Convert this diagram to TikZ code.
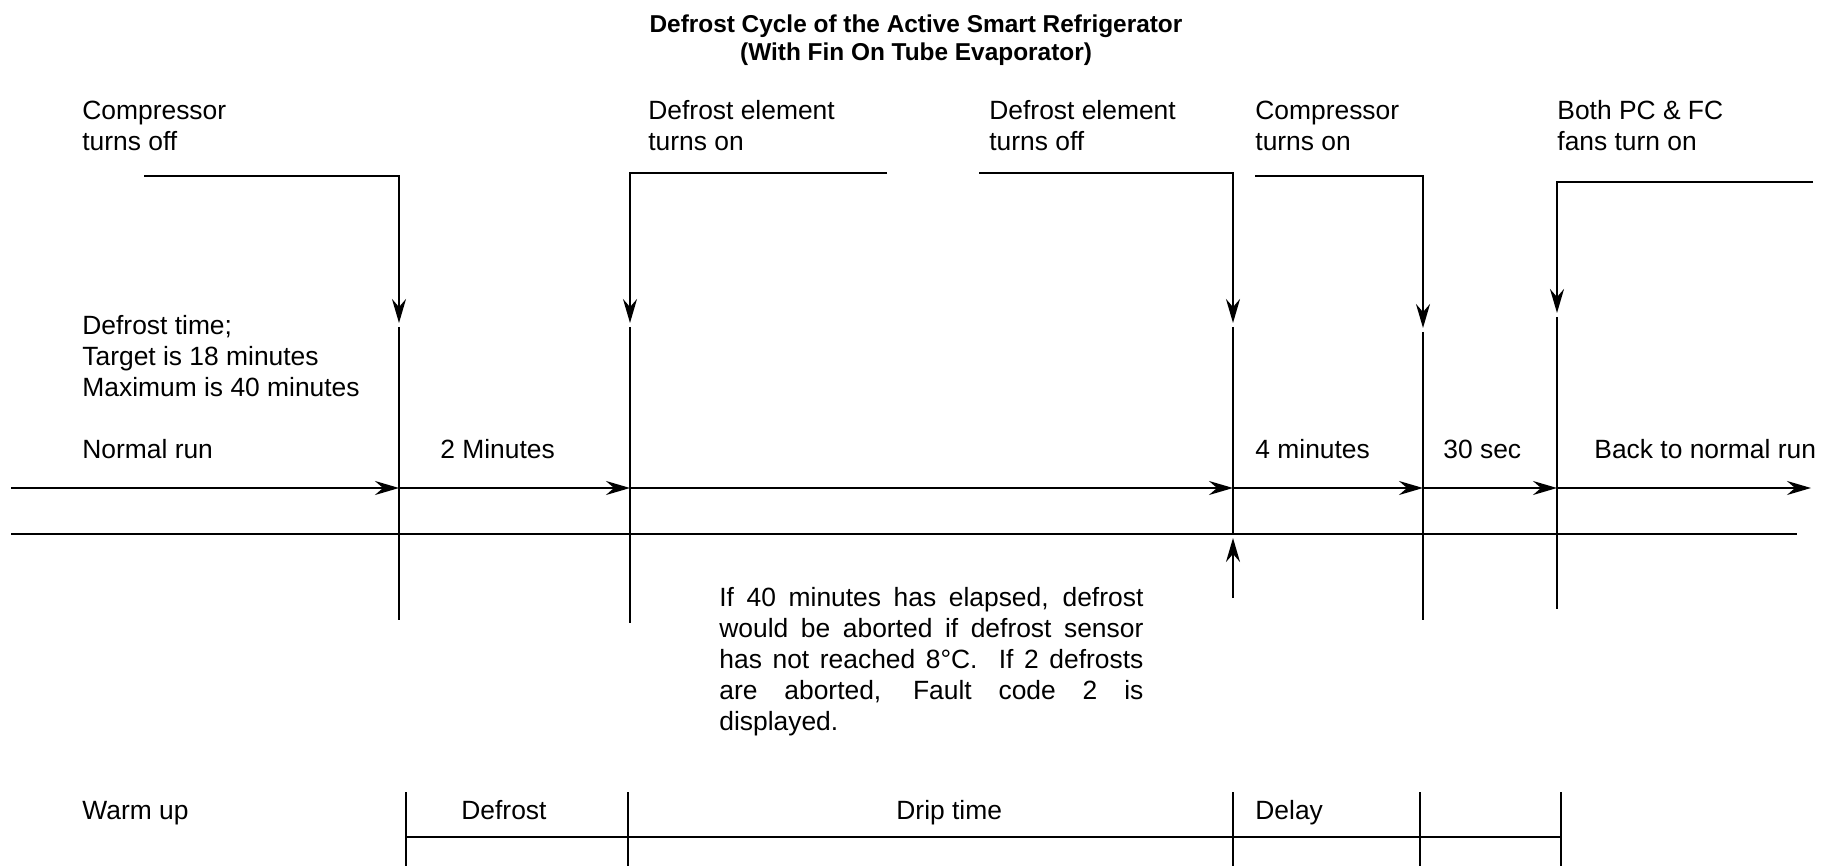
\documentclass[tikz,border=0pt]{standalone}
\usepackage{fontspec}
\setmainfont{Liberation Sans}
\usetikzlibrary{arrows.meta}

\begin{document}
\begin{tikzpicture}[
  x=0.5pt, y=-0.5pt,
  txt/.style={anchor=base west, inner sep=0pt, align=left, font=\fontsize{13.2}{15.5}\selectfont},
  ttl/.style={anchor=base, inner sep=0pt, align=center, font=\fontsize{12.2}{14}\selectfont\bfseries},
  ln/.style={line width=1pt},
  arr/.style={ln, -{Stealth[length=12pt, width=7pt, inset=4pt]}}
]
\useasboundingbox (0,0) rectangle (1832,866);

\node[ttl] (title) at (916,61) {Defrost Cycle of the Active Smart Refrigerator\\(With Fin On Tube Evaporator)};

% events
\node[txt] (compoff) at (82,151) {Compressor\\turns off};
\node[txt] (defon) at (648,151) {Defrost element\\turns on};
\node[txt] (defoff) at (989,151) {Defrost element\\turns off};
\node[txt] (compon) at (1255,151) {Compressor\\turns on};
\node[txt] (fanson) at (1557,151) {Both PC \& FC\\fans turn on};

\coordinate (startA) at (144,176);  \coordinate (tipA) at (399,323);
\coordinate (startB) at (887,173);  \coordinate (tipB) at (630,323);
\coordinate (startC) at (979,173);  \coordinate (tipC) at (1233,323);
\coordinate (startD) at (1255,176); \coordinate (tipD) at (1423,328);
\coordinate (startE) at (1813,182); \coordinate (tipE) at (1557,313);

\draw[arr] (startA) -| (tipA);
\draw[arr] (startB) -| (tipB);
\draw[arr] (startC) -| (tipC);
\draw[arr] (startD) -| (tipD);
\draw[arr] (startE) -| (tipE);

\draw[ln] (tipA) ++(0,4) -- (399,620);
\draw[ln] (tipB) ++(0,4) -- (630,623);
\draw[ln] (tipC) ++(0,4) -- (1233,534);
\draw[ln] (tipD) ++(0,4) -- (1423,620);
\draw[ln] (tipE) ++(0,4) -- (1557,609);

\node[txt] (deftime) at (82,396) {Defrost time;\\Target is 18 minutes\\Maximum is 40 minutes};

% time line
\node[txt] (normal) at (82,458) {Normal run};
\node[txt] (twomin) at (440,458) {2 Minutes};
\node[txt] (fourmin) at (1255,458) {4 minutes};
\node[txt] (thirty) at (1443,458) {30 sec};
\node[txt] (back) at (1594,458) {Back to normal run};

\coordinate (t0) at (11,488);
\coordinate (t1) at (399,488);
\coordinate (t2) at (630,488);
\coordinate (t3) at (1233,488);
\coordinate (t4) at (1423,488);
\coordinate (t5) at (1557,488);
\coordinate (t6) at (1811,488);

\draw[arr] (t0) -- (t1);
\draw[arr] (t1) -- (t2);
\draw[arr] (t2) -- (t3);
\draw[arr] (t3) -- (t4);
\draw[arr] (t4) -- (t5);
\draw[arr] (t5) -- (t6);

\coordinate (base0) at (11,534);
\coordinate (base1) at (1797,534);
\draw[ln] (base0) -- (base1);

\coordinate (abort) at (1233,598);
\coordinate (aborttip) at (1233,538);
\draw[arr] (abort) -- (aborttip);

\node[txt, text width=212pt, align=justify] (note) at (719,606) {If 40 minutes has elapsed, defrost\linebreak would be aborted if defrost sensor\linebreak has not reached 8°C.\ \ If 2 defrosts\linebreak are aborted, Fault code 2 is\linebreak displayed.};

% phases
\node[txt] (warm) at (82,819) {Warm up};
\node[txt] (defrost) at (461,819) {Defrost};
\node[txt] (drip) at (896,819) {Drip time};
\node[txt] (delay) at (1255,819) {Delay};

\draw[ln] (406,792) -- (406,866);
\draw[ln] (628,792) -- (628,866);
\draw[ln] (1233,792) -- (1233,866);
\draw[ln] (1420,792) -- (1420,866);
\draw[ln] (1561,792) -- (1561,866);
\draw[ln] (406,837) -- (1561,837);
\end{tikzpicture}
\end{document}
